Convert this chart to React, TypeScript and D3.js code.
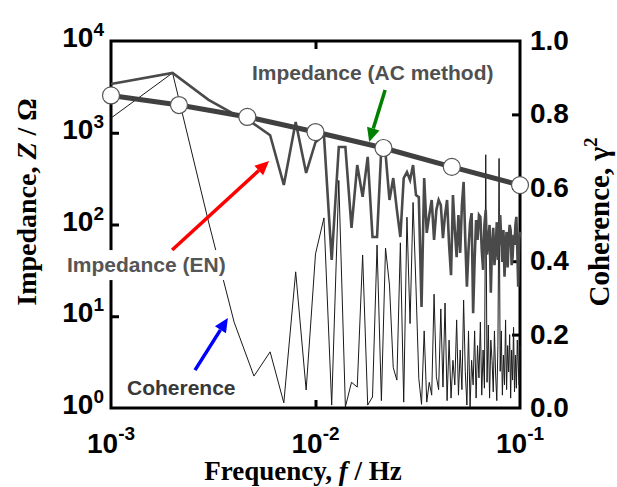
import React, { useEffect, useRef } from 'react';
import * as d3 from 'd3';

// EN spectrum is sampled every 1 mHz
const freqMHz = [
  1, 2, 3, 4, 5, 6, 7, 8, 9, 10, 11, 12, 13, 14, 15, 16, 17, 18, 19, 20,
  21, 22, 23, 24, 25, 26, 27, 28, 29, 30, 31, 32, 33, 34, 35, 36, 37, 38, 39, 40,
  41, 42, 43, 44, 45, 46, 47, 48, 49, 50, 51, 52, 53, 54, 55, 56, 57, 58, 59, 60,
  61, 62, 63, 64, 65, 66, 67, 68, 69, 70, 71, 72, 73, 74, 75, 76, 77, 78, 79, 80,
  81, 82, 83, 84, 85, 86, 87, 88, 89, 90, 91, 92, 93, 94, 95, 96, 97, 98, 99, 100,
];

// impedance from electrochemical noise, ohm
const impedanceEN = [
  3400, 4480, 2280, 1600, 1250, 940, 270, 1310, 365, 790,
  940, 41, 700, 700, 92, 445, 200, 547, 73, 73,
  700, 600, 185, 321, 144, 73, 321, 373, 305, 445,
  209, 199, 12.6, 321, 81, 127, 185, 68, 144, 185,
  163, 71, 127, 185, 60, 28, 209, 87, 44, 127,
  49, 163, 291, 68, 21, 53, 104, 133, 10.8, 41,
  112, 68, 127, 121, 53, 32, 99, 144, 47, 68,
  99, 18, 60, 92, 36, 53, 106, 41, 68, 127,
  68, 39, 87, 27, 60, 83, 34, 68, 99, 87,
  36, 44, 77, 60, 99, 121, 53, 21, 68, 83,
];

// coherence gamma^2
const coherence = [
  0.79, 0.913, 0.507, 0.234, 0.087, 0.153, 0.014, 0.371, 0.049, 0.42,
  0.518, 0.008, 0.62, 0.003, 0.07, 0.057, 0.417, 0.008, 0.03, 0.444,
  0.02, 0.436, 0.335, 0.11, 0.076, 0.45, 0.016, 0.52, 0.23, 0.56,
  0.33, 0.08, 0.01, 0.21, 0.016, 0.07, 0.035, 0.31, 0.085, 0.05,
  0.27, 0.057, 0.286, 0.02, 0.185, 0.027, 0.13, 0.063, 0.24, 0.035,
  0.158, 0.05, 0.294, 0.1, 0.008, 0.21, 0.003, 0.13, 0.063, 0.21,
  0.027, 0.17, 0.082, 0.234, 0.035, 0.158, 0.054, 0.69, 0.07, 0.226,
  0.027, 0.185, 0.13, 0.044, 0.21, 0.09, 0.02, 0.17, 0.68, 0.1,
  0.21, 0.035, 0.144, 0.063, 0.24, 0.05, 0.17, 0.098, 0.2, 0.027,
  0.158, 0.076, 0.22, 0.044, 0.144, 0.054, 0.185, 0.117, 0.063, 0.17,
];

// AC impedance measurement
const acFreqMHz = [1, 2.15, 4.64, 10, 21.5, 46.4, 100];
const acImpedance = [2550, 2005, 1487, 1018, 682, 424, 269];

const xTicks = [1e-3, 1e-2, 1e-1];
const xTickExp = ['-3', '-2', '-1'];
const yLeftTicks = [1, 10, 100, 1000, 10000];
const yLeftExp = ['0', '1', '2', '3', '4'];
const yRightTicks = [0, 0.2, 0.4, 0.6, 0.8, 1.0];

const W = 617;
const H = 487;

export default function App() {
  const ref = useRef<SVGSVGElement | null>(null);

  useEffect(() => {
    const svg = d3.select(ref.current);
    svg.selectAll('*').remove();

    const margin = { top: 41, right: 97, bottom: 79, left: 111 };
    const x = d3.scaleLog().domain([1e-3, 1e-1]).range([margin.left, W - margin.right]);
    const yL = d3.scaleLog().domain([1, 1e4]).range([H - margin.bottom, margin.top]);
    const yR = d3.scaleLinear().domain([0, 1]).range([H - margin.bottom, margin.top]);

    const sans = "'Liberation Sans', Arial, sans-serif";
    const serif = "'Liberation Serif', 'Times New Roman', serif";

    // frame
    svg.append('rect')
      .attr('x', margin.left).attr('y', margin.top)
      .attr('width', W - margin.left - margin.right)
      .attr('height', H - margin.top - margin.bottom)
      .attr('fill', 'none').attr('stroke', '#000').attr('stroke-width', 3);

    // inner ticks
    const tickAxes = [
      { ax: d3.axisLeft(yL).tickValues([10, 100, 1000]), t: `translate(${margin.left},0)` },
      { ax: d3.axisRight(yR).tickValues([0.2, 0.4, 0.6, 0.8]), t: `translate(${W - margin.right},0)` },
      { ax: d3.axisBottom(x).tickValues([1e-2]), t: `translate(0,${H - margin.bottom})` },
      { ax: d3.axisTop(x).tickValues([1e-2]), t: `translate(0,${margin.top})` },
    ];
    tickAxes.forEach(({ ax, t }) => {
      const g = svg.append('g').attr('transform', t)
        .call(ax.tickSize(-8).tickFormat(() => ''));
      g.select('.domain').remove();
      g.selectAll('line').attr('stroke', '#000').attr('stroke-width', 3);
    });

    // tick labels
    xTicks.forEach((v, i) => {
      const t = svg.append('text')
        .attr('x', x(v)).attr('y', 453)
        .attr('text-anchor', 'middle')
        .style('font-family', sans).style('font-weight', 'bold').style('font-size', '28px');
      t.append('tspan').text('10');
      t.append('tspan').attr('dy', -13).style('font-size', '19px').text(xTickExp[i]);
    });
    yLeftTicks.forEach((v, i) => {
      const t = svg.append('text')
        .attr('x', 104).attr('y', yL(v) + 6)
        .attr('text-anchor', 'end')
        .style('font-family', sans).style('font-weight', 'bold').style('font-size', '28px');
      t.append('tspan').text('10');
      t.append('tspan').attr('dy', -11).style('font-size', '19px').text(yLeftExp[i]);
    });
    yRightTicks.forEach((v) => {
      svg.append('text')
        .attr('x', 530).attr('y', yR(v) + 9)
        .style('font-family', sans).style('font-weight', 'bold').style('font-size', '28px')
        .text(d3.format('.1f')(v));
    });

    // axis titles
    const xt = svg.append('text')
      .attr('x', 303).attr('y', 480).attr('text-anchor', 'middle')
      .style('font-family', serif).style('font-weight', 'bold').style('font-size', '27px');
    xt.append('tspan').text('Frequency, ');
    xt.append('tspan').style('font-style', 'italic').text('f');
    xt.append('tspan').text(' / Hz');

    const ylt = svg.append('text')
      .attr('transform', 'translate(36,202) rotate(-90)').attr('text-anchor', 'middle')
      .style('font-family', serif).style('font-weight', 'bold').style('font-size', '28px');
    ylt.append('tspan').text('Impedance, ');
    ylt.append('tspan').style('font-style', 'italic').text('Z');
    ylt.append('tspan').text(' / Ω');

    const yrt = svg.append('text')
      .attr('transform', 'translate(609,222) rotate(-90)').attr('text-anchor', 'middle')
      .style('font-family', serif).style('font-weight', 'bold').style('font-size', '29px');
    yrt.append('tspan').text('Coherence, γ');
    yrt.append('tspan').attr('dy', -12).style('font-size', '19px').text('2');

    // data
    const pts = freqMHz.map((f, i) => ({ f: f / 1000, z: impedanceEN[i], c: coherence[i] }));

    svg.append('path')
      .datum(pts)
      .attr('fill', 'none').attr('stroke', '#1a1a1a').attr('stroke-width', 1)
      .attr('d', d3.line<any>().x((d) => x(d.f)).y((d) => yR(d.c)));

    svg.append('path')
      .datum(pts)
      .attr('fill', 'none').attr('stroke', '#4a4a4a').attr('stroke-width', 2.6)
      .attr('stroke-linejoin', 'miter')
      .attr('d', d3.line<any>().x((d) => x(d.f)).y((d) => yL(d.z)));

    const ac = acFreqMHz.map((f, i) => ({ f: f / 1000, z: acImpedance[i] }));
    svg.append('path')
      .datum(ac)
      .attr('fill', 'none').attr('stroke', '#404040').attr('stroke-width', 5)
      .attr('d', d3.line<any>().x((d) => x(d.f)).y((d) => yL(d.z)));
    svg.selectAll('circle.ac')
      .data(ac).enter().append('circle')
      .attr('cx', (d) => x(d.f)).attr('cy', (d) => yL(d.z)).attr('r', 8.5)
      .attr('fill', '#fff').attr('stroke', '#555').attr('stroke-width', 1.2);

    // annotations
    const label = (txt: string, px: number, py: number, color: string, box: boolean) => {
      const bg = box
        ? svg.append('rect').attr('x', px - 4).attr('y', py - 22).attr('height', 30).attr('fill', '#fff')
        : null;
      const t = svg.append('text')
        .attr('x', px).attr('y', py)
        .style('font-family', sans).style('font-weight', 'bold').style('font-size', '21px')
        .attr('fill', color).text(txt);
      if (bg) {
        const w = (t.node() as SVGTextElement).getComputedTextLength();
        bg.attr('width', w + 18);
      }
    };
    label('Impedance (AC method)', x(4.89e-3), yL(3758), '#505050', false);
    label('Impedance (EN)', 67, yL(30.3), '#555555', true);
    label('Coherence', 127, yL(1.39), '#383838', true);

    const arrow = (x1: number, y1: number, x2: number, y2: number, color: string) => {
      const ang = Math.atan2(y2 - y1, x2 - x1);
      const hl = 14;
      const hw = 6.5;
      const bx = x2 - hl * Math.cos(ang);
      const by = y2 - hl * Math.sin(ang);
      svg.append('line')
        .attr('x1', x1).attr('y1', y1).attr('x2', bx).attr('y2', by)
        .attr('stroke', color).attr('stroke-width', 3.5);
      svg.append('path')
        .attr('d', `M${x2},${y2}L${bx - hw * Math.sin(ang)},${by + hw * Math.cos(ang)}L${bx + hw * Math.sin(ang)},${by - hw * Math.cos(ang)}Z`)
        .attr('fill', color);
    };
    arrow(x(1.99e-3), yL(52.7), x(5.93e-3), yL(492), '#ff0000');
    arrow(x(2.575e-3), yL(2.59), x(3.73e-3), yL(9.57), '#0000ff');
    arrow(x(21.9e-3), yL(2924), x(18.3e-3), yL(794), '#008000');
  }, []);

  return (
    <svg
      ref={ref}
      width={W}
      height={H}
      style={{ position: 'absolute', left: 0, top: 0, background: '#fff' }}
    />
  );
}
